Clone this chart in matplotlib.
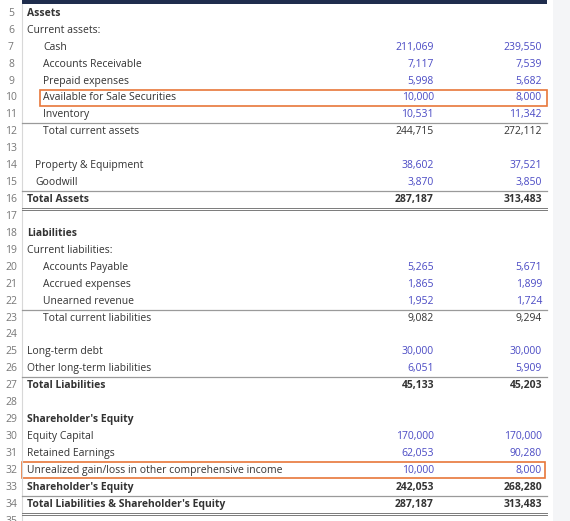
"""
Balance sheet excerpt drawn as a spreadsheet-like table.
"""

import matplotlib.pyplot as plt
from matplotlib.patches import Rectangle

row_nums = list(range(5, 36))
labels = [
    "Assets", "Current assets:", "Cash", "Accounts Receivable", "Prepaid expenses",
    "Available for Sale Securities", "Inventory", "Total current assets", "",
    "Property & Equipment", "Goodwill", "Total Assets", "",
    "Liabilities", "Current liabilities:", "Accounts Payable", "Accrued expenses",
    "Unearned revenue", "Total current liabilities", "",
    "Long-term debt", "Other long-term liabilities", "Total Liabilities", "",
    "Shareholder's Equity", "Equity Capital", "Retained Earnings",
    "Unrealized gain/loss in other comprehensive income",
    "Shareholder's Equity", "Total Liabilities & Shareholder's Equity", "",
]
indent = [0, 0, 1, 1, 1, 1, 1, 1, 0, 0.5, 0.5, 0, 0,
          0, 0, 1, 1, 1, 1, 0, 0, 0, 0, 0, 0, 0, 0, 0, 0, 0, 0]
col_a = [None, None, 211069, 7117, 5998, 10000, 10531, 244715, None, 38602, 3870, 287187, None,
         None, None, 5265, 1865, 1952, 9082, None, 30000, 6051, 45133, None,
         None, 170000, 62053, 10000, 242053, 287187, None]
col_b = [None, None, 239550, 7539, 5682, 8000, 11342, 272112, None, 37521, 3850, 313483, None,
         None, None, 5671, 1899, 1724, 9294, None, 30000, 5909, 45203, None,
         None, 170000, 90280, 8000, 268280, 313483, None]
total_rows = [12, 16, 23, 27, 33, 34]
bold_rows = [5, 16, 18, 27, 29, 33, 34]
thin_under = [11, 15, 22, 26, 33]
double_under = [16, 34]
boxed_rows = [10, 32]

W, H = 570, 521
ROW0_Y, ROW_H = 13.3, 16.93
X_SEP, X_END = 22, 547
X_LABEL, X_INDENT = 27, 16
X_COL_A, X_COL_B = 434, 542
BLUE = "#4a4ac4"
DARK = "#333333"
ORANGE = "#e8773a"

plt.rcParams["font.family"] = ["Open Sans", "DejaVu Sans"]

fig = plt.figure(figsize=(W / 100, H / 100), dpi=100)
ax = fig.add_axes([0, 0, 1, 1])
ax.set_xlim(0, W)
ax.set_ylim(H, 0)
ax.axis("off")


def row_y(r):
    return ROW0_Y + (r - 5) * ROW_H


# page background on the right
ax.add_patch(Rectangle((553, 0), W - 553, H, color="#f4f5f7", lw=0))
# dark header band
ax.add_patch(Rectangle((X_SEP, 0), X_END - X_SEP, 4, color="#1f2d4d", lw=0))
# row number separator
ax.plot([X_SEP, X_SEP], [4, H], color="#d8d8d8", lw=0.8)

fs = 7.5
for i, r in enumerate(row_nums):
    y = row_y(r)
    ax.text(11, y, str(r), ha="center", va="center", fontsize=fs, color="#777777")
    weight = "bold" if r in bold_rows else "normal"
    if labels[i]:
        ax.text(X_LABEL + indent[i] * X_INDENT, y, labels[i], ha="left", va="center",
                fontsize=fs, color=DARK, fontweight=weight)
    color = DARK if r in total_rows else BLUE
    for x, vals in ((X_COL_A, col_a), (X_COL_B, col_b)):
        if vals[i] is not None:
            ax.text(x, y, f"{vals[i]:,}", ha="right", va="center", fontsize=fs,
                    color=color, fontweight=weight)

for r in thin_under:
    yb = row_y(r) + ROW_H / 2
    ax.plot([X_SEP, X_END], [yb, yb], color="#9a9a9a", lw=0.9)
for r in double_under:
    yb = row_y(r) + ROW_H / 2
    ax.plot([X_SEP, X_END], [yb, yb], color="#7a7a7a", lw=0.7)
    ax.plot([X_SEP, X_END], [yb + 1.8, yb + 1.8], color="#7a7a7a", lw=0.7)

for r in boxed_rows:
    yt = row_y(r) - ROW_H / 2
    x0 = 40 if r == 10 else X_SEP
    x1 = X_END if r == 10 else 545
    ax.add_patch(Rectangle((x0, yt + 0.5), x1 - x0, ROW_H - 1, fill=False,
                           edgecolor=ORANGE, lw=1.2))

fig.savefig("out.png", dpi=100)
